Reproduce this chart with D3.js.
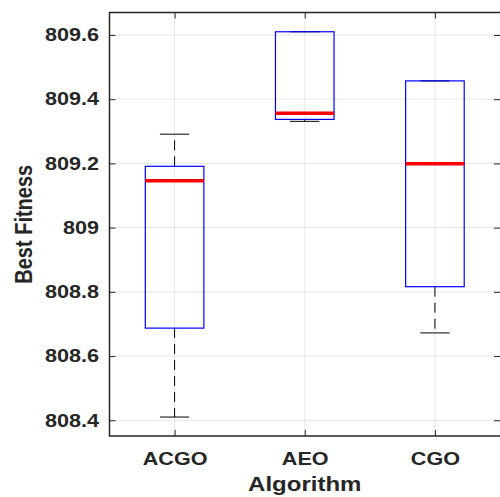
<!DOCTYPE html>
<html>
<head>
<meta charset="utf-8">
<script src="https://cdn.jsdelivr.net/npm/d3@7"></script>
<style>
  body { margin: 0; background: #fff; }
  svg { display: block; }
</style>
</head>
<body>
<script>
// box plot data
var categories = ["ACGO", "AEO", "CGO"];
var whiskerLow = [808.410, 809.331, 808.672];
var q1 = [808.687, 809.337, 808.816];
var medians = [809.146, 809.356, 809.199];
var q3 = [809.191, 809.610, 809.457];
var whiskerHigh = [809.291, 809.610, 809.457];

var yTicks = [808.4, 808.6, 808.8, 809, 809.2, 809.4, 809.6];
var yTickLabels = ["808.4", "808.6", "808.8", "809", "809.2", "809.4", "809.6"];

var svgWidth = 500;
var svgHeight = 497;

var plotLeft = 109.5, plotTop = 12.5, plotRight = 500, plotBottom = 436;
var chartWidth = plotRight - plotLeft;
var chartHeight = plotBottom - plotTop;

var textColor = "#262626";
var fontFamily = "'Liberation Sans', Arial, sans-serif";
var stretch = "scale(1.2,1)";

var svg = d3.select("body")
    .append("svg")
    .attr("width", svgWidth)
    .attr("height", svgHeight);

var chartGroup = svg.append("g")
    .attr("transform", `translate(${plotLeft}, ${plotTop})`);

var xScale = d3.scalePoint()
    .domain(categories)
    .range([0, chartWidth])
    .padding(0.5);
var step = xScale.step();

var yScale = d3.scaleLinear()
    .domain([808.351, 809.670])
    .range([chartHeight, 0]);

// grid
chartGroup.append("g")
    .selectAll("line")
    .data(yTicks)
    .enter()
    .append("line")
    .attr("x1", 0)
    .attr("x2", chartWidth)
    .attr("y1", d => yScale(d))
    .attr("y2", d => yScale(d))
    .attr("stroke", "#e6e6e6")
    .attr("stroke-width", 1);

chartGroup.append("g")
    .selectAll("line")
    .data(categories)
    .enter()
    .append("line")
    .attr("x1", d => xScale(d))
    .attr("x2", d => xScale(d))
    .attr("y1", 0)
    .attr("y2", chartHeight)
    .attr("stroke", "#e6e6e6")
    .attr("stroke-width", 1);

// boxes
var boxW = step * 0.45;
var capW = step * 0.225;

var boxes = chartGroup.selectAll(".box")
    .data(categories)
    .enter()
    .append("g")
    .attr("class", "box");

// whiskers (dashed)
boxes.append("line")
    .attr("x1", d => xScale(d))
    .attr("x2", d => xScale(d))
    .attr("y1", (d, i) => yScale(q3[i]))
    .attr("y2", (d, i) => yScale(whiskerHigh[i]))
    .attr("stroke", "#000")
    .attr("stroke-dasharray", "10,6");
boxes.append("line")
    .attr("x1", d => xScale(d))
    .attr("x2", d => xScale(d))
    .attr("y1", (d, i) => yScale(q1[i]))
    .attr("y2", (d, i) => yScale(whiskerLow[i]))
    .attr("stroke", "#000")
    .attr("stroke-dasharray", "10,6");

// caps
boxes.append("line")
    .attr("x1", d => xScale(d) - capW / 2)
    .attr("x2", d => xScale(d) + capW / 2)
    .attr("y1", (d, i) => yScale(whiskerHigh[i]))
    .attr("y2", (d, i) => yScale(whiskerHigh[i]))
    .attr("stroke", "#000");
boxes.append("line")
    .attr("x1", d => xScale(d) - capW / 2)
    .attr("x2", d => xScale(d) + capW / 2)
    .attr("y1", (d, i) => yScale(whiskerLow[i]))
    .attr("y2", (d, i) => yScale(whiskerLow[i]))
    .attr("stroke", "#000");

boxes.append("rect")
    .attr("x", d => xScale(d) - boxW / 2)
    .attr("width", boxW)
    .attr("y", (d, i) => yScale(q3[i]))
    .attr("height", (d, i) => yScale(q1[i]) - yScale(q3[i]))
    .attr("fill", "none")
    .attr("stroke", "#0000ff")
    .attr("stroke-width", 1.2);

boxes.append("line")
    .attr("x1", d => xScale(d) - boxW / 2)
    .attr("x2", d => xScale(d) + boxW / 2)
    .attr("y1", (d, i) => yScale(medians[i]))
    .attr("y2", (d, i) => yScale(medians[i]))
    .attr("stroke", "#ff0000")
    .attr("stroke-width", 3.5);

// axes
var yAxis = d3.axisLeft(yScale)
    .tickValues(yTicks)
    .tickFormat((d, i) => yTickLabels[i])
    .tickSize(-6)
    .tickPadding(8.75);
var xAxis = d3.axisBottom(xScale)
    .tickSize(-6)
    .tickPadding(16.5);

var yG = chartGroup.append("g").call(yAxis);
var xG = chartGroup.append("g")
    .attr("transform", `translate(0, ${chartHeight})`)
    .call(xAxis);

// mirrored ticks on top and right
chartGroup.append("g")
    .call(d3.axisTop(xScale).tickSize(-6).tickFormat(""));
chartGroup.append("g")
    .attr("transform", `translate(${chartWidth}, 0)`)
    .call(d3.axisRight(yScale).tickValues(yTicks).tickSize(-6).tickFormat(""));

chartGroup.selectAll(".domain").remove();
chartGroup.selectAll(".tick line").attr("stroke", textColor);

[yG, xG].forEach(function(g) {
    g.selectAll("text")
        .attr("transform", stretch)
        .attr("font-family", fontFamily)
        .attr("font-weight", "bold")
        .attr("font-size", "18px")
        .attr("fill", textColor);
});

// frame: left, top, bottom (right edge falls outside the picture)
chartGroup.append("path")
    .attr("d", `M${chartWidth + 2},0 H0 V${chartHeight} H${chartWidth + 2}`)
    .attr("fill", "none")
    .attr("stroke", textColor)
    .attr("stroke-width", 1.5);

// axis labels
svg.append("text")
    .attr("transform", `translate(${plotLeft + chartWidth / 2}, 491) ${stretch}`)
    .attr("text-anchor", "middle")
    .attr("font-family", fontFamily)
    .attr("font-weight", "bold")
    .attr("font-size", "20px")
    .attr("fill", textColor)
    .text("Algorithm");

svg.append("text")
    .attr("transform", `translate(32, ${plotTop + chartHeight / 2}) ${stretch} rotate(-90)`)
    .attr("text-anchor", "middle")
    .attr("font-family", fontFamily)
    .attr("font-weight", "bold")
    .attr("font-size", "20px")
    .attr("fill", textColor)
    .text("Best Fitness");
</script>
</body>
</html>
